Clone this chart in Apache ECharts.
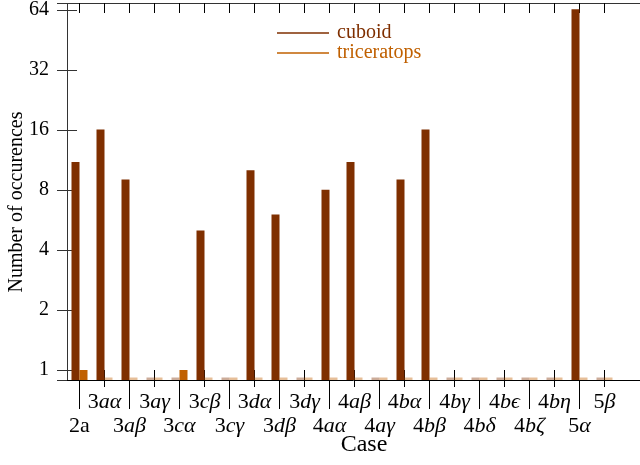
<!DOCTYPE html>
<html>
<head>
<meta charset="utf-8">
<script src="https://cdn.jsdelivr.net/npm/echarts@6/dist/echarts.min.js"></script>
<style>
html,body{margin:0;padding:0;background:#fff;}
#chart{width:640px;height:465px;}
</style>
</head>
<body>
<div id="chart"></div>
<script>
// ---- data ----
const CATEGORIES = ['2a','3aα','3aβ','3aγ','3cα','3cβ','3cγ','3dα','3dβ','3dγ','4aα','4aβ','4aγ','4bα','4bβ','4bγ','4bδ','4bϵ','4bζ','4bη','5α','5β'];
const CUBOID      = [11,16,9,0,0,5,0,10,6,0,8,11,0,9,16,0,0,0,0,0,64,0];
const TRICERATOPS = [1,0,0,0,1,0,0,0,0,0,0,0,0,0,0,0,0,0,0,0,0,0];
const Y_TICKS = [1,2,4,8,16,32,64];
const SERIES_NAMES = ['cuboid','triceratops'];

// ---- styling / layout ----
const COLORS = ['#7f2f00','#c06000'];
const Y_MIN = 0.891, Y_MAX = 68.8;
const ZERO_STUB = 0.917;   // zero counts are drawn as a faint stub at the floor
const BAR_W = 8;
const SERIF = '"Liberation Serif", "DejaVu Serif", serif';

function fmtCat(name){
  if (name === '2a') return '{n|2a}';
  return '{n|' + name[0] + '}{i|' + name.slice(1) + '}';
}
const richLabel = {
  n:{fontFamily:SERIF, fontSize:22, color:'#000'},
  i:{fontFamily:SERIF, fontSize:22, fontStyle:'italic', color:'#000'}
};
const odd = i => i % 2 === 1;
const even = i => i % 2 === 0;

function barRenderer(side, color){
  return function(params, api){
    const xi = api.value(0);
    const raw = api.value(1);
    const isZero = raw === 0;
    const v = isZero ? ZERO_STUB : raw;
    const top = api.coord([xi, v]);
    const base = api.coord([xi, Y_MIN]);
    const x = side < 0 ? top[0] - BAR_W : top[0];
    return {
      type:'rect',
      shape:{x:x, y:top[1], width:BAR_W, height:base[1]-top[1]},
      style:{fill:color, opacity:isZero ? 0.4 : 1}
    };
  };
}

const chart = echarts.init(document.getElementById('chart'), null, {renderer:'canvas'});
const gridA = {left:67, top:3, width:550, bottom:85};
const gridB = {left:67, top:3, right:-2, bottom:85};

const baseCat = (extra) => Object.assign({
  type:'category', gridIndex:0, data:CATEGORIES, boundaryGap:true,
  axisLine:{show:false}, splitLine:{show:false},
  axisLabel:{show:false}, axisTick:{show:false}
}, extra);

const option = {
  animation:false,
  backgroundColor:'#fff',
  grid:[gridA, gridB],
  legend:{
    left:277, top:23, orient:'vertical', padding:0, itemGap:0,
    itemWidth:52, itemHeight:1.5, icon:'rect',
    data:SERIES_NAMES.map((n,i)=>({name:n, itemStyle:{color:COLORS[i]}, textStyle:{color:COLORS[i]}})),
    textStyle:{fontFamily:SERIF, fontSize:20, lineHeight:19, padding:[0,0,0,3]}
  },
  xAxis:[
    baseCat({position:'bottom',
      axisTick:{show:true, inside:true, length:10, alignWithLabel:true, interval:odd, lineStyle:{color:'#000'}},
      axisLabel:{show:true, interval:odd, margin:11, formatter:fmtCat, rich:richLabel}}),
    baseCat({position:'bottom',
      axisTick:{show:true, inside:false, length:7, alignWithLabel:true, interval:odd, lineStyle:{color:'#000'}}}),
    baseCat({position:'bottom',
      axisTick:{show:true, inside:false, length:29, alignWithLabel:true, interval:even, lineStyle:{color:'#000'}},
      axisLabel:{show:true, interval:even, margin:35, formatter:fmtCat, rich:richLabel}}),
    baseCat({position:'top',
      axisTick:{show:true, inside:true, length:10, alignWithLabel:true, interval:0, lineStyle:{color:'#000'}}}),
    {type:'value', gridIndex:1, position:'bottom', min:0, max:1,
      axisLine:{show:true, lineStyle:{color:'#000', width:1}}, axisTick:{show:false}, axisLabel:{show:false}, splitLine:{show:false}},
    {type:'value', gridIndex:1, position:'top', min:0, max:1,
      axisLine:{show:true, lineStyle:{color:'#333', width:1}}, axisTick:{show:false}, axisLabel:{show:false}, splitLine:{show:false}}
  ],
  yAxis:[
    {type:'log', logBase:2, gridIndex:0, min:Y_MIN, max:Y_MAX,
      axisLine:{show:false}, axisTick:{show:false}, axisLabel:{show:false}, splitLine:{show:false}},
    {type:'log', logBase:2, gridIndex:1, position:'left', min:Y_MIN, max:Y_MAX,
      axisLine:{show:true, lineStyle:{color:'#333', width:1}},
      axisTick:{show:true, inside:true, length:10, lineStyle:{color:'#333'}},
      axisLabel:{show:true, showMinLabel:false, showMaxLabel:false, margin:18,
        fontFamily:SERIF, fontSize:20, color:'#000',
        formatter:v => { const r = Math.round(v); return Y_TICKS.includes(r) && Math.abs(v-r)<0.01 ? String(r) : ''; }},
      splitLine:{show:false}},
    {type:'log', logBase:2, gridIndex:1, position:'right', min:Y_MIN, max:Y_MAX,
      axisLine:{show:true, lineStyle:{color:'#333', width:1}},
      axisTick:{show:true, inside:true, length:10, lineStyle:{color:'#333'}},
      axisLabel:{show:false}, splitLine:{show:false}}
  ],
  series:[
    {name:SERIES_NAMES[0], type:'custom', xAxisIndex:0, yAxisIndex:0,
      data:CUBOID.map((v,i)=>[i,v]), encode:{x:0, y:1},
      itemStyle:{color:COLORS[0]}, renderItem:barRenderer(-1, COLORS[0])},
    {name:SERIES_NAMES[1], type:'custom', xAxisIndex:0, yAxisIndex:0,
      data:TRICERATOPS.map((v,i)=>[i,v]), encode:{x:0, y:1},
      itemStyle:{color:COLORS[1]}, renderItem:barRenderer(1, COLORS[1])}
  ],
  graphic:[
    {type:'text', x:364, y:445, style:{text:'Case', font:'24px ' + SERIF, fill:'#000', align:'center', verticalAlign:'middle'}},
    {type:'text', x:17, y:202, rotation:Math.PI/2, style:{text:'Number of occurences', font:'20px ' + SERIF, fill:'#000', align:'center', verticalAlign:'middle'}}
  ]
};
chart.setOption(option);
</script>
</body>
</html>
